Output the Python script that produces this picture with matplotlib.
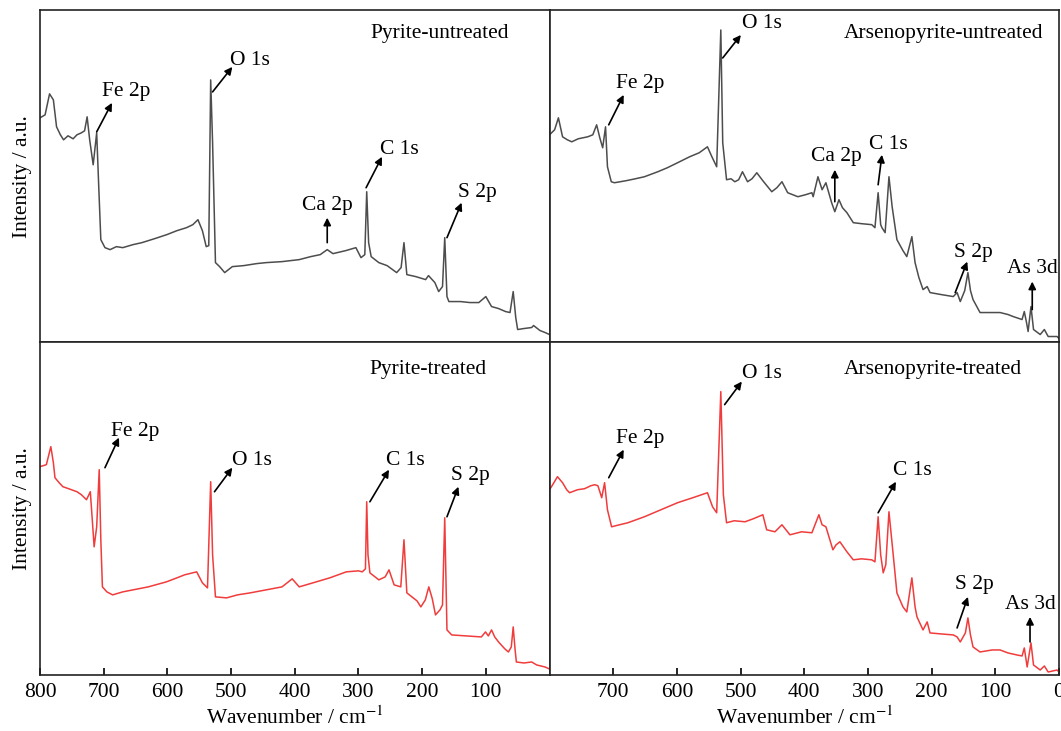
import matplotlib
matplotlib.use("Agg")
from matplotlib import pyplot as plt

plt.rcParams['font.family'] = ['Liberation Serif', 'DejaVu Serif']
plt.rcParams['mathtext.fontset'] = 'stix'
plt.rcParams['font.size'] = 15.5

# spectra: wavenumber / cm-1 and intensity (a.u.)
pu_x = [800, 792, 785, 779, 774, 768, 763, 756, 748, 742, 735, 730, 726, 722, 716.5, 711, 708, 704.5,
        698, 690, 680, 670, 654, 640, 620, 601, 585, 570, 560, 552, 545, 539, 535, 532, 529, 524.5,
        518, 510, 498, 480, 460, 445, 420, 393, 375, 360, 349, 340, 320, 304, 296, 290, 287, 284,
        280, 268, 255, 240, 233, 228.5, 224, 210, 194.5, 190, 180, 174, 168, 164.5, 161, 158, 140,
        125, 111, 100, 91, 80, 69, 62, 57, 53, 50, 40, 28, 25, 15, 7, 0]
pu_y = [225, 228, 249, 243, 216, 208, 203, 207, 204, 208, 210, 212, 226, 203, 178, 210, 160, 103,
        95, 93, 96, 95, 98, 100, 104, 108, 112, 115, 118, 123, 112, 96, 97, 263, 200, 80,
        76, 70, 76, 77, 79, 80, 81, 83, 86, 88, 93, 89, 92, 95, 85, 88, 151, 100,
        86, 80, 77, 70, 75, 100, 68, 66, 63, 67, 60, 51, 56, 105, 46, 41, 41,
        40, 40, 46, 36, 34, 31, 30, 51, 25, 13, 14, 15, 17, 12, 10, 8]

au_x = [800, 792, 786, 779.5, 772, 765, 755, 740, 732, 726, 721, 716.5, 712, 709, 703, 698, 680, 665,
        651, 630, 615, 599, 580, 565, 552, 545, 537.5, 531, 528, 522, 515, 509, 503, 497, 489, 482,
        474.5, 465, 451, 443, 435, 426, 418, 410, 398, 388, 386, 378.5, 372, 366, 357, 352, 345.5,
        340, 333, 323, 310, 294, 289, 284, 280, 278, 273, 267, 262, 254.5, 245, 239, 231, 226, 220,
        213.5, 207, 202.5, 185, 166, 160, 155, 148, 143, 139, 135, 124, 110, 92.5, 80, 72, 58, 54.5,
        51, 48.5, 44, 40, 29.5, 23, 17, 3, 0]
au_y = [208, 213, 225, 206, 203, 201, 204, 206, 208, 218, 205, 195, 216, 176, 161, 160, 162, 164,
        166, 171, 175, 180, 186, 190, 196, 186, 176, 313, 200, 163, 164, 161, 163, 171, 161, 164,
        170, 162, 151, 155, 161, 150, 148, 146, 148, 150, 146, 166, 153, 160, 140, 131, 143,
        135, 130, 120, 119, 118, 115, 150, 118, 115, 110, 166, 136, 103, 92, 86, 106, 80, 65,
        53, 56, 50, 48, 46, 50, 41, 52, 70, 52, 43, 30, 30, 30, 28, 26, 23, 31,
        20, 11, 36, 13, 8, 13, 6, 6, 4]

pt_x = [800, 790, 783, 779, 776.5, 770, 764, 755, 742, 735, 727, 721, 719, 715, 711, 707, 704.5, 702,
        695, 686, 670, 654, 630, 601.5, 585, 573, 554, 545, 537, 532, 529, 524.5, 507, 490, 470,
        445, 420, 404, 393, 371.5, 345, 319, 300, 294, 289, 287, 285, 282, 268, 258, 252, 244,
        233.5, 228.5, 224, 216, 208, 202, 195, 189.5, 184, 179, 172, 168, 164.5, 161, 153.5, 130,
        107, 100.5, 96, 91, 86, 80, 70, 64.5, 60, 57, 54, 52, 40, 28, 20, 7, 0]
pt_y = [208, 210, 228, 212, 197, 192, 188, 186, 183, 180, 175, 183, 165, 128, 148, 205, 135, 88,
        83, 80, 83, 85, 88, 93, 97, 100, 103, 92, 87, 193, 120, 78, 77, 80, 82,
        85, 88, 96, 88, 92, 97, 103, 104, 103, 106, 173, 120, 102, 95, 98, 105, 90,
        88, 135, 82, 78, 74, 68, 75, 88, 76, 60, 65, 70, 157, 45, 40, 39,
        38, 43, 39, 45, 38, 33, 26, 23, 28, 48, 25, 13, 12, 13, 10, 8, 6]

at_x = [800, 795, 787.5, 779.5, 773, 768.5, 756, 745, 735, 729, 724, 718, 713.5, 709, 702.5, 690, 677,
        651, 625, 599, 575, 552, 544, 537.5, 531, 527, 522, 510, 493, 480, 465, 459, 446, 435,
        422.5, 404, 388, 377, 372, 366, 355, 350, 344, 333, 323, 310, 294, 289, 284, 280, 276, 272,
        267, 260, 254.5, 245, 239, 231, 226, 223, 213.5, 207, 202.5, 185, 166, 160, 155, 147, 143,
        139, 135, 124, 105, 92.5, 80, 66, 58, 54.5, 50, 44, 40, 29.5, 23, 17, 3, 0]
at_y = [185, 190, 198, 192, 185, 182, 185, 186, 189, 190, 189, 177, 192, 165, 148, 150, 152,
        158, 165, 172, 177, 182, 168, 162, 283, 180, 152, 154, 153, 156, 160, 145, 143, 150,
        140, 143, 142, 160, 150, 148, 125, 130, 133, 123, 115, 116, 115, 113, 158, 120, 102, 110,
        163, 118, 82, 68, 63, 97, 68, 58, 45, 53, 42, 41, 40, 38, 33, 42, 57,
        40, 28, 23, 25, 25, 22, 20, 19, 27, 8, 32, 10, 5, 9, 3, 5, 3]

gray = '#4d4d4d'
red = '#f03c3c'

fig = plt.figure(figsize=(10.61, 7.31), dpi=100)
gs = fig.add_gridspec(2, 2, left=40/1061, right=1059/1061, top=1-10/731, bottom=1-675/731,
                      hspace=0, wspace=0)
axes = [[fig.add_subplot(gs[r, c]) for c in range(2)] for r in range(2)]

panels = [
    (axes[0][0], pu_x, pu_y, gray, 333, 'Pyrite-untreated', 0.92, 0.93,
     [('Fe 2p', 665, 251, 711, 211, 687, 240),
      ('O 1s', 470, 282, 529, 251, 498, 276),
      ('Ca 2p', 349, 137, 349, 100, 349, 125),
      ('C 1s', 235, 193, 288, 155, 263, 186),
      ('S 2p', 114, 150, 161, 105, 138, 140)]),
    (axes[0][1], au_x, au_y, gray, 333, 'Arsenopyrite-untreated', 0.969, 0.93,
     [('Fe 2p', 658, 259, 707, 218, 683.5, 248),
      ('O 1s', 466, 319, 528, 285, 499.5, 308),
      ('Ca 2p', 349, 186, 352, 141, 352, 173),
      ('C 1s', 268, 198, 284, 158, 278, 188),
      ('S 2p', 135, 90, 163, 50, 144, 81),
      ('As 3d', 42, 74, 42, 33, 42, 61)]),
    (axes[1][0], pt_x, pt_y, red, 332, 'Pyrite-treated', 0.876, 0.92,
     [('Fe 2p', 651, 243, 698, 207, 676, 237),
      ('O 1s', 468, 214, 526, 183, 498, 207),
      ('C 1s', 227, 214, 282, 173, 252, 205),
      ('S 2p', 124, 199, 161, 158, 143, 188)]),
    (axes[1][1], at_x, at_y, red, 332, 'Arsenopyrite-treated', 0.927, 0.92,
     [('Fe 2p', 658, 236, 707, 197, 683.5, 225),
      ('O 1s', 466, 301, 525, 270, 498, 293),
      ('C 1s', 231, 204, 284, 162, 256, 193),
      ('S 2p', 133, 90, 160, 47, 143, 78),
      ('As 3d', 45, 70, 45.5, 33, 45.5, 58)]),
]

for ax, xs, ys, col, top, title, tx, ty, notes in panels:
    ax.plot(xs, ys, color=col, lw=1.1)
    ax.set_xlim(800, 0)
    ax.set_ylim(0, top)
    ax.set_yticks([])
    ax.text(tx, ty, title, transform=ax.transAxes, ha='right', va='center')
    for lab, lx, ly, x0, y0, x1, y1 in notes:
        ax.annotate('', xy=(x1, y1), xytext=(x0, y0),
                    arrowprops=dict(arrowstyle='-|>', color='k', lw=1.2, mutation_scale=11,
                                    shrinkA=0, shrinkB=0))
        ax.text(lx, ly, lab, ha='center', va='center')
    for s in ax.spines.values():
        s.set_linewidth(1.2)
        s.set_color('#222222')
    ax.tick_params(axis='x', direction='in', length=5, width=1.2, pad=6)

for ax in axes[0]:
    ax.set_xticks([])
axes[1][0].set_xticks([800, 700, 600, 500, 400, 300, 200, 100])
axes[1][1].set_xticks([700, 600, 500, 400, 300, 200, 100, 0])
for ax in axes[1]:
    ax.set_xlabel('Wavenumber / cm$^{-1}$', labelpad=3)
for r in range(2):
    axes[r][0].set_ylabel('Intensity / a.u.', labelpad=6)

fig.savefig('out.png', dpi=100)
